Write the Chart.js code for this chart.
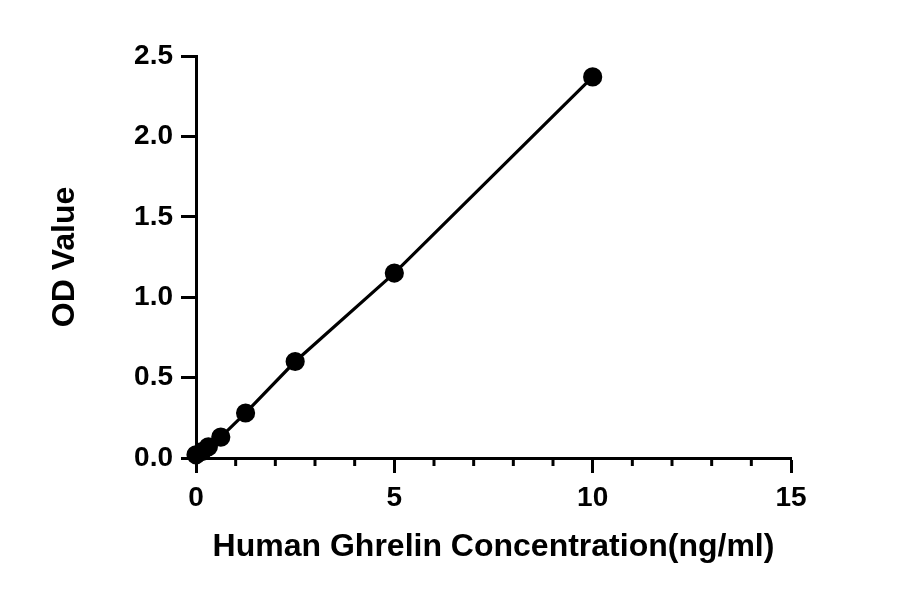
<!DOCTYPE html>
<html>
<head>
<meta charset="utf-8">
<script src="https://cdn.jsdelivr.net/npm/chart.js@4"></script>
<style>
  html, body { margin: 0; padding: 0; background: #fff; }
  #wrap { width: 900px; height: 594px; }
</style>
</head>
<body>
<div id="wrap"><canvas id="curveChart" width="900" height="594"></canvas></div>
<script>
// Standard curve data (concentration ng/ml vs OD)
const concentrations = [0, 0.156, 0.312, 0.625, 1.25, 2.5, 5, 10];
const odValues = [0.02, 0.04, 0.07, 0.13, 0.28, 0.60, 1.15, 2.37];
const xTicks = [0, 5, 10, 15];
const yTicks = [0.0, 0.5, 1.0, 1.5, 2.0, 2.5];

const tickFont = { family: 'Liberation Sans, Arial, sans-serif', size: 28, weight: 'bold' };
const titleFont = { family: 'Liberation Sans, Arial, sans-serif', size: 32, weight: 'bold' };

// minor ticks on the x axis (every 1 unit)
const minorTicks = {
    id: 'minorTicks',
    afterDraw(chart) {
        const x = chart.scales.x;
        const c = chart.ctx;
        c.save();
        c.strokeStyle = '#000';
        c.lineWidth = 3;
        for (let v = x.min; v <= x.max; v++) {
            if (v % 5 === 0) continue;
            const px = x.getPixelForValue(v);
            c.beginPath();
            c.moveTo(px, x.top);
            c.lineTo(px, x.top + 8);
            c.stroke();
        }
        c.restore();
    }
};

const ctx = document.getElementById('curveChart').getContext('2d');
const curveChart = new Chart(ctx, {
    type: 'scatter',
    data: {
        datasets: [{
            data: concentrations.map((c, i) => ({ x: c, y: odValues[i] })),
            showLine: true,
            borderColor: '#000',
            borderWidth: 3.2,
            backgroundColor: '#000',
            pointBackgroundColor: '#000',
            pointBorderColor: '#000',
            pointRadius: 8,
            pointHoverRadius: 8,
            clip: false,
        }]
    },
    options: {
        responsive: false,
        animation: false,
        events: [],
        layout: { padding: { left: 0, top: 56, right: 109, bottom: 0 } },
        plugins: { legend: { display: false }, tooltip: { enabled: false } },
        scales: {
            x: {
                type: 'linear',
                min: 0,
                max: 15,
                afterFit: s => { s.height = 136; },
                afterBuildTicks: s => { s.ticks = xTicks.map(v => ({ value: v })); },
                border: { color: '#000', width: 3 },
                grid: { drawOnChartArea: false, color: '#000', tickColor: '#000', tickLength: 15, tickWidth: 3 },
                ticks: { color: '#000', font: tickFont, padding: 8, maxRotation: 0 },
                title: {
                    display: true,
                    text: 'Human Ghrelin Concentration(ng/ml)',
                    color: '#000',
                    font: titleFont,
                    padding: { top: 0, bottom: 28 }
                }
            },
            y: {
                type: 'linear',
                min: 0,
                max: 2.5,
                afterFit: s => { s.width = 196; },
                afterBuildTicks: s => { s.ticks = yTicks.map(v => ({ value: v })); },
                border: { color: '#000', width: 3 },
                grid: { drawOnChartArea: false, color: '#000', tickColor: '#000', tickLength: 15, tickWidth: 3 },
                ticks: { color: '#000', font: tickFont, padding: 8, callback: v => v.toFixed(1) },
                title: {
                    display: true,
                    text: 'OD Value',
                    color: '#000',
                    font: titleFont,
                    padding: { top: 46, bottom: 0 }
                }
            }
        }
    },
    plugins: [minorTicks]
});
</script>
</body>
</html>
